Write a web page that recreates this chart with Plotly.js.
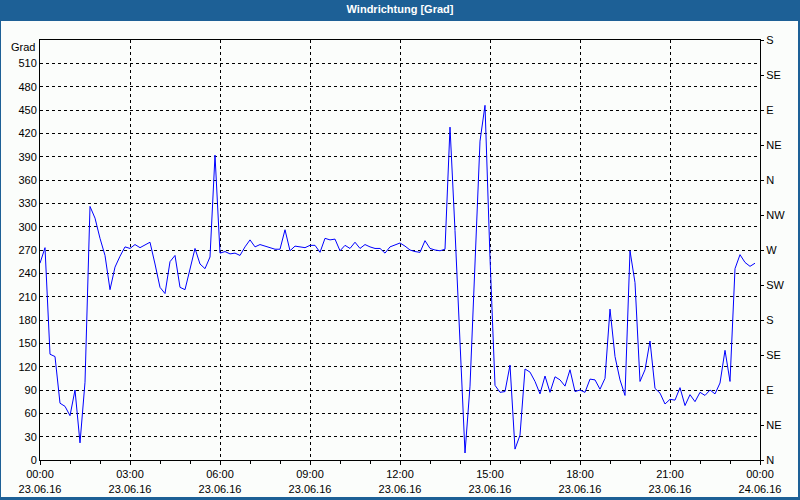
<!DOCTYPE html>
<html>
<head>
<meta charset="utf-8">
<script src="https://cdn.plot.ly/plotly-3.0.1.min.js"></script>
<style>
  html, body { margin:0; padding:0; background:#ffffff; }
  #wrap { position:relative; width:800px; height:500px; background:#1d6096; overflow:hidden; }
  #inner { position:absolute; left:1px; top:21px; width:797px; height:476px; background:#fbfdfb; }
  #chart { position:absolute; left:0; top:0; width:800px; height:500px; }
</style>
</head>
<body>
<div id="wrap"><div id="inner"></div><div id="chart"></div></div>
<script>
// Chart data (10-minute samples on 23.06.16)
const startTime = '2016-06-23 00:00';
const stepMinutes = 10;
const windDirection = [
  253, 273, 136, 133, 73, 69, 57, 90, 22, 100,
  326, 311, 285, 263, 219, 248, 262, 274, 272, 277,
  273, 276, 280, 252, 222, 214, 255, 263, 222, 219,
  247, 272, 252, 246, 261, 392, 266, 268, 265, 266,
  263, 274, 283, 274, 277, 275, 272, 271, 271, 296,
  269, 275, 274, 273, 276, 276, 267, 285, 283, 284,
  269, 276, 272, 280, 272, 277, 274, 272, 272, 266,
  274, 277, 279, 275, 270, 268, 267, 282, 272, 270,
  269, 271, 428, 295, 150, 9, 95, 260, 410, 456,
  260, 96, 87, 88, 122, 14, 32, 117, 113, 101,
  85, 108, 87, 107, 103, 95, 116, 88, 90, 87,
  104, 103, 91, 105, 194, 133, 103, 83, 269, 228,
  101, 116, 153, 92, 86, 72, 78, 77, 93, 70,
  84, 75, 87, 83, 90, 85, 99, 141, 101, 246,
  264, 254, 249, 253
];
const xTickTimes = ['2016-06-23 00:00','2016-06-23 03:00','2016-06-23 06:00','2016-06-23 09:00',
  '2016-06-23 12:00','2016-06-23 15:00','2016-06-23 18:00','2016-06-23 21:00','2016-06-24 00:00'];
const xTickLabels = ['00:00<br>23.06.16','03:00<br>23.06.16','06:00<br>23.06.16','09:00<br>23.06.16',
  '12:00<br>23.06.16','15:00<br>23.06.16','18:00<br>23.06.16','21:00<br>23.06.16','00:00<br>24.06.16'];
const gradTicks = [0,30,60,90,120,150,180,210,240,270,300,330,360,390,420,450,480,510];
const compassTicks = [0,45,90,135,180,225,270,315,360,405,450,495,540];
const compassLabels = ['N','NE','E','SE','S','SW','W','NW','N','NE','E','SE','S'];
const yTitle = 'Grad';
const chartTitle = 'Windrichtung [Grad]';

function pad(n){ return (n<10?'0':'')+n; }
const t0 = new Date(startTime.replace(' ','T')+':00');
const times = windDirection.map((v,i)=>{
  const d = new Date(t0.getTime() + i*stepMinutes*60000);
  return d.getFullYear()+'-'+pad(d.getMonth()+1)+'-'+pad(d.getDate())+' '+pad(d.getHours())+':'+pad(d.getMinutes());
});

const font = {family:'Liberation Sans, Arial, sans-serif', size:11, color:'#000000'};

const traces = [
  {x:times, y:windDirection, type:'scatter', mode:'lines',
   line:{color:'#0000ff', width:1}, hoverinfo:'skip', showlegend:false},
  {x:[times[0]], y:[0], yaxis:'y2', type:'scatter', mode:'lines',
   line:{width:0}, hoverinfo:'skip', showlegend:false}
];

const layout = {
  width:800, height:500,
  paper_bgcolor:'rgba(0,0,0,0)', plot_bgcolor:'rgba(0,0,0,0)',
  margin:{l:40, r:40, t:40, b:40},
  font:font,
  showlegend:false,
  title:{text:chartTitle, x:0.5, xref:'paper', xanchor:'center', y:1, yref:'container', yanchor:'top', pad:{t:5},
         font:{family:'Liberation Sans, Arial, sans-serif', size:11, color:'#ffffff', weight:'bold'}},
  xaxis:{type:'date', range:['2016-06-23 00:00','2016-06-24 00:00'],
    tickvals:xTickTimes, ticktext:xTickLabels,
    showgrid:true, gridcolor:'#000000', gridwidth:1, griddash:'3px,3px',
    showline:true, linecolor:'#000000', linewidth:1, mirror:true,
    ticks:'outside', ticklen:4, tickcolor:'#000000',
    minor:{dtick:3600000, ticks:'outside', ticklen:3, tickcolor:'#000000', showgrid:false},
    zeroline:false, fixedrange:true, tickfont:font},
  yaxis:{range:[0,540], tickvals:gradTicks, showgrid:true, gridcolor:'#000000', gridwidth:1, griddash:'3px,3px',
    showline:true, linecolor:'#000000', linewidth:1, mirror:true, ticks:'', zeroline:false, fixedrange:true,
    tickfont:font},
  yaxis2:{range:[0,540], overlaying:'y', side:'right', tickvals:compassTicks, ticktext:compassLabels,
    showgrid:false, showline:false, ticks:'outside', ticklen:3, tickcolor:'#000000', zeroline:false,
    fixedrange:true, tickfont:font},
  annotations:[{text:yTitle, xref:'paper', x:0, xanchor:'right', xshift:-3, yref:'y', y:540, yanchor:'top', yshift:1,
    showarrow:false, font:font}]
};

Plotly.newPlot('chart', traces, layout, {staticPlot:true, displayModeBar:false});
</script>
</body>
</html>
